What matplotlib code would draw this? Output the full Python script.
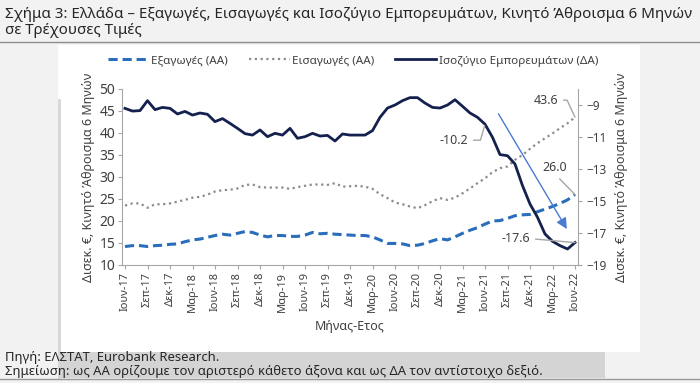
import matplotlib
matplotlib.use("Agg")
import matplotlib.pyplot as plt
from matplotlib.patches import Rectangle
from matplotlib.lines import Line2D

plt.rcParams['font.family'] = ['Noto Sans', 'DejaVu Sans']

months = ["Ιουν-17", "Ιουλ-17", "Αυγ-17", "Σεπ-17", "Οκτ-17", "Νοε-17", "Δεκ-17", "Ιαν-18", "Φεβ-18", "Μαρ-18",
          "Απρ-18", "Μαϊ-18", "Ιουν-18", "Ιουλ-18", "Αυγ-18", "Σεπ-18", "Οκτ-18", "Νοε-18", "Δεκ-18", "Ιαν-19",
          "Φεβ-19", "Μαρ-19", "Απρ-19", "Μαϊ-19", "Ιουν-19", "Ιουλ-19", "Αυγ-19", "Σεπ-19", "Οκτ-19", "Νοε-19",
          "Δεκ-19", "Ιαν-20", "Φεβ-20", "Μαρ-20", "Απρ-20", "Μαϊ-20", "Ιουν-20", "Ιουλ-20", "Αυγ-20", "Σεπ-20",
          "Οκτ-20", "Νοε-20", "Δεκ-20", "Ιαν-21", "Φεβ-21", "Μαρ-21", "Απρ-21", "Μαϊ-21", "Ιουν-21", "Ιουλ-21",
          "Αυγ-21", "Σεπ-21", "Οκτ-21", "Νοε-21", "Δεκ-21", "Ιαν-22", "Φεβ-22", "Μαρ-22", "Απρ-22", "Μαϊ-22",
          "Ιουν-22"]

exports = [14.2, 14.4, 14.4, 14.2, 14.4, 14.5, 14.7, 14.8, 15.3, 15.7,
           15.9, 16.3, 16.7, 17.0, 16.8, 17.2, 17.6, 17.4, 16.8, 16.4,
           16.7, 16.7, 16.5, 16.5, 16.8, 17.4, 17.1, 17.2, 17.0, 16.9,
           16.8, 16.7, 16.7, 16.4, 15.7, 14.9, 14.9, 14.8, 14.4, 14.5,
           14.9, 15.5, 16.0, 15.7, 16.4, 17.2, 17.9, 18.5, 19.3, 20.0,
           20.1, 20.6, 21.2, 21.4, 21.5, 22.1, 22.7, 23.3, 24.0, 24.8,
           26.0]

imports = [23.5, 24.0, 24.0, 23.0, 23.8, 23.8, 24.0, 24.4, 24.8, 25.3,
           25.5, 26.0, 26.7, 27.0, 27.1, 27.4, 28.2, 28.3, 27.7, 27.6,
           27.6, 27.6, 27.3, 27.7, 28.0, 28.3, 28.3, 28.2, 28.6, 27.8,
           27.9, 28.0, 27.8, 27.3, 26.1, 25.2, 24.2, 23.8, 23.3, 22.9,
           23.6, 24.5, 25.2, 24.8, 25.3, 26.3, 27.4, 28.6, 29.7, 31.1,
           32.0, 32.4, 33.9, 35.0, 36.4, 37.7, 38.8, 39.9, 41.1, 42.2,
           43.6]

balance = [-9.21, -9.38, -9.35, -8.73, -9.29, -9.15, -9.21, -9.56, -9.40, -9.63,
           -9.50, -9.58, -10.04, -9.85, -10.15, -10.46, -10.79, -10.88, -10.56, -10.98,
           -10.77, -10.88, -10.46, -11.08, -10.98, -10.77, -10.94, -10.90, -11.25, -10.81,
           -10.88, -10.88, -10.88, -10.60, -9.77, -9.19, -9.00, -8.73, -8.54, -8.54,
           -8.88, -9.15, -9.19, -9.00, -8.67, -9.08, -9.50, -9.77, -10.20, -11.02,
           -12.10, -12.17, -12.69, -14.04, -15.19, -16.02, -17.06, -17.52, -17.79, -18.00,
           -17.60]

tick_idx = list(range(0, 61, 3))
tick_labels = ["Ιουν-17", "Σεπ-17", "Δεκ-17", "Μαρ-18", "Ιουν-18", "Σεπ-18", "Δεκ-18", "Μαρ-19",
               "Ιουν-19", "Σεπ-19", "Δεκ-19", "Μαρ-20", "Ιουν-20", "Σεπ-20", "Δεκ-20", "Μαρ-21",
               "Ιουν-21", "Σεπ-21", "Δεκ-21", "Μαρ-22", "Ιουν-22"]

W, H = 700, 383
fig = plt.figure(figsize=(7.0, 3.83), dpi=100, facecolor="#f2f2f2")

def fx(px):
    return px / W

def fy(py):
    return 1 - py / H

# white panel
fig.patches.append(Rectangle((fx(58), fy(352)), fx(640) - fx(58), fy(45) - fy(352),
                             transform=fig.transFigure, facecolor="white", edgecolor="none", zorder=-2))
# left shadow line
fig.add_artist(Line2D([fx(59), fx(59)], [fy(100), fy(378)], transform=fig.transFigure,
                      color="#d6d6d6", lw=2, zorder=-1))
# footer band
fig.patches.append(Rectangle((fx(58), fy(378)), fx(605) - fx(58), fy(352) - fy(378),
                             transform=fig.transFigure, facecolor="#d4d4d4", edgecolor="none", zorder=-2))
# title separator and bottom line
fig.add_artist(Line2D([0, 1], [fy(42), fy(42)], transform=fig.transFigure, color="#8c8c8c", lw=1))
fig.add_artist(Line2D([0, 1], [fy(378.5), fy(378.5)], transform=fig.transFigure, color="#9a9a9a", lw=1))

fig.text(fx(5), fy(15), "Σχήμα 3: Ελλάδα – Εξαγωγές, Εισαγωγές και Ισοζύγιο Εμπορευμάτων, Κινητό Άθροισμα 6 Μηνών",
         fontsize=10.9, color="#262626", va="center", ha="left")
fig.text(fx(5), fy(31), "σε Τρέχουσες Τιμές", fontsize=10.9, color="#262626", va="center", ha="left")

fig.text(fx(5), fy(357), "Πηγή: ΕΛΣΤΑΤ, Eurobank Research.", fontsize=9.4, color="#262626", va="center")
fig.text(fx(5), fy(372), "Σημείωση: ως ΑΑ ορίζουμε τον αριστερό κάθετο άξονα και ως ΔΑ τον αντίστοιχο δεξιό.",
         fontsize=9.4, color="#262626", va="center")

ax = fig.add_axes([fx(122), fy(265), fx(578) - fx(122), fy(89) - fy(265)])
ax.set_facecolor("none")
ax2 = ax.twinx()

x = list(range(len(months)))
c_exp = "#2a6ebb"
c_imp = "#8c8c8c"
c_bal = "#14214f"

l1, = ax.plot(x, exports, color=c_exp, lw=2.2, linestyle=(0, (3, 1.6)), label="Εξαγωγές (ΑΑ)")
l2, = ax.plot(x, imports, color=c_imp, lw=1.6, linestyle=(0, (1, 1.6)), label="Εισαγωγές (ΑΑ)")
l3, = ax2.plot(x, balance, color=c_bal, lw=2.0, label="Ισοζύγιο Εμπορευμάτων (ΔΑ)")

ax.set_xlim(-0.4, 60.4)
ax.set_ylim(10, 50)
ax.set_yticks(range(10, 51, 5))
ax2.set_ylim(-19, -8)
ax2.set_yticks(range(-19, -8, 2))
ax.set_xticks(tick_idx)
ax.set_xticklabels(tick_labels, rotation=90, fontsize=8, color="#404040")

tc = "#404040"
for a in (ax, ax2):
    for s in a.spines.values():
        s.set_color("#a6a6a6")
    a.spines["top"].set_visible(False)
    a.tick_params(colors="#a6a6a6", labelcolor=tc, length=3, width=0.8)
ax.spines["right"].set_visible(False)
ax2.spines["left"].set_visible(False)
ax2.spines["bottom"].set_visible(False)
ax.tick_params(axis="y", labelsize=10, pad=2)
ax2.tick_params(axis="y", labelsize=8.5, pad=3)
ax.tick_params(axis="x", pad=2)

ax.set_ylabel("Δισεκ. €, Κινητό Άθροισμα 6 Μηνών", fontsize=9, color=tc, labelpad=3)
ax2.set_ylabel("Δισεκ. €, Κινητό Άθροισμα 6 Μηνών", fontsize=9, color=tc, rotation=90, labelpad=6)
ax.set_xlabel("Μήνας-Ετος", fontsize=9, color=tc, labelpad=6)

fig.legend(handles=[l1, l2, l3], loc="center", bbox_to_anchor=(fx(353), fy(61)), ncol=3, frameon=False,
           fontsize=8.4, labelcolor=tc, handlelength=3.5, handletextpad=0.2, columnspacing=1.8)

gray = "#a6a6a6"
ax.annotate(f"{imports[-1]:.1f}", xy=(60, imports[-1]), xytext=(-17, 17), textcoords="offset pixels",
            ha="right", va="center", fontsize=9, color=tc,
            arrowprops=dict(arrowstyle="-", color=gray, lw=1, relpos=(1, 0.5), shrinkA=2, shrinkB=0,
                            connectionstyle="angle,angleA=0,angleB=115,rad=0"))
ax.annotate(f"{exports[-1]:.1f}", xy=(60, exports[-1]), xytext=(-20, 27), textcoords="offset pixels",
            ha="center", va="center", fontsize=9, color=tc,
            arrowprops=dict(arrowstyle="-", color=gray, lw=1, relpos=(0.5, 0), shrinkA=2, shrinkB=0))
ax2.annotate(f"{balance[48]:.1f}", xy=(48, balance[48]), xytext=(-17, -16), textcoords="offset pixels",
             ha="right", va="center", fontsize=9, color=tc,
             arrowprops=dict(arrowstyle="-", color=gray, lw=1, relpos=(1, 0.5), shrinkA=2, shrinkB=1,
                             connectionstyle="angle,angleA=0,angleB=74,rad=0"))
ax2.annotate(f"{balance[-1]:.1f}", xy=(60, balance[-1]), xytext=(-45, 4), textcoords="offset pixels",
             ha="right", va="center", fontsize=9, color=tc,
             arrowprops=dict(arrowstyle="-", color=gray, lw=1, relpos=(1, 0.5), shrinkA=2, shrinkB=0))
# trend arrow
ax2.annotate("", xy=(59.1, -16.9), xytext=(49.6, -9.4),
             arrowprops=dict(arrowstyle="-|>", color="#4b7bd1", lw=1, mutation_scale=16))

fig.savefig("out.png", dpi=100, facecolor=fig.get_facecolor())
